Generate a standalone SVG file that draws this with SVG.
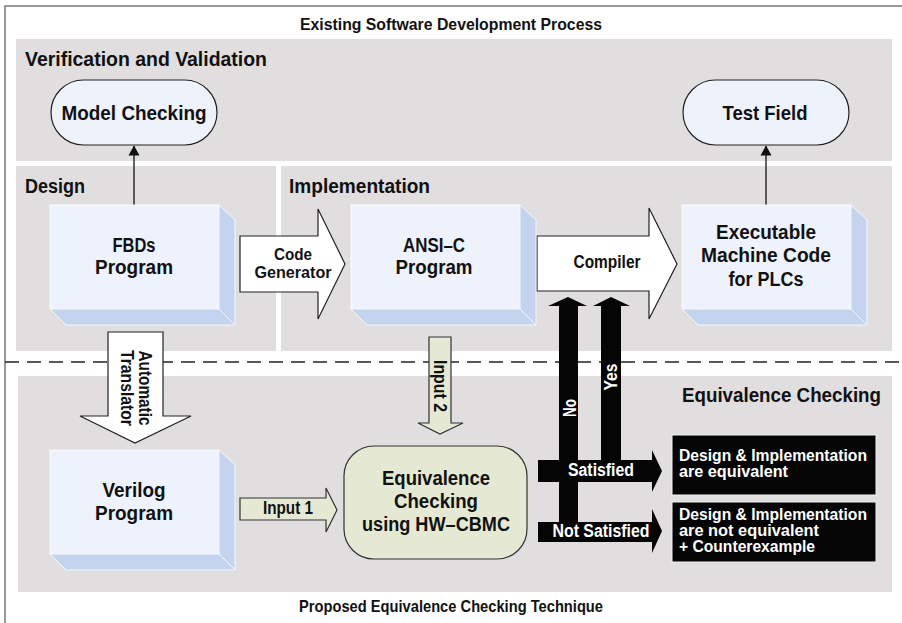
<svg xmlns="http://www.w3.org/2000/svg" xmlns:xlink="http://www.w3.org/1999/xlink" width="902" height="623" viewBox="0 0 902 623">
<style>
.panel{fill:#e0dedf}
.t{font-family:"Liberation Sans",Arial,sans-serif;font-weight:bold;fill:#111}
.c{text-anchor:middle}
.wt{fill:#fff}
.face{fill:#eef2fc;stroke:#fafbff;stroke-width:1}
.bevel{fill:#c4d3ee;stroke:#f4f7fd;stroke-width:1}
.pill{fill:#eef2fb;stroke:#222;stroke-width:1.2}
.blockw{fill:#fff;stroke:#222;stroke-width:1.2}
.green{fill:#e5e9d3;stroke:#333;stroke-width:1.2}
.blk{fill:#050505}
.line{fill:none;stroke:#111;stroke-width:1.3}
.res{fill:#050505;stroke:#f2f2f2;stroke-width:1}
</style>
<defs>
<marker id="ah" viewBox="0 0 10 14" refX="9.5" refY="7" markerWidth="10" markerHeight="14" markerUnits="userSpaceOnUse" orient="auto">
<path d="M0,1.5 L10,7 L0,12.5 Z" fill="#111"/>
</marker>
<g id="box3d">
<rect class="face" x="0" y="0" width="169" height="104"/>
<polygon class="bevel" points="169,0 185,15 185,120 169,104"/>
<polygon class="bevel" points="0,104 169,104 185,120 16,120"/>
</g>
</defs>

<rect x="0" y="0" width="902" height="623" fill="#fff"/>
<path d="M5,623 V6 H902" fill="none" stroke="#777" stroke-width="1.5"/>

<g id="panels">
<rect class="panel" x="16" y="39" width="876" height="122"/>
<rect class="panel" x="16" y="166" width="260" height="185"/>
<rect class="panel" x="281" y="166" width="611" height="185"/>
<rect class="panel" x="18" y="376" width="874" height="216"/>
<line x1="5" y1="362" x2="902" y2="362" stroke="#222" stroke-width="1.5" stroke-dasharray="14 8"/>
</g>

<g id="labels">
<text class="t c" x="451" y="30" font-size="17" textLength="302" lengthAdjust="spacingAndGlyphs">Existing Software Development Process</text>
<text class="t" x="25" y="66" font-size="20" textLength="242" lengthAdjust="spacingAndGlyphs">Verification and Validation</text>
<text class="t" x="25" y="193" font-size="20" textLength="60" lengthAdjust="spacingAndGlyphs">Design</text>
<text class="t" x="289" y="193" font-size="20" textLength="141" lengthAdjust="spacingAndGlyphs">Implementation</text>
<text class="t" x="881" y="402" font-size="20" text-anchor="end" textLength="199" lengthAdjust="spacingAndGlyphs">Equivalence Checking</text>
<text class="t c" x="451" y="612" font-size="17" textLength="304" lengthAdjust="spacingAndGlyphs">Proposed Equivalence Checking Technique</text>
</g>

<g id="connectors">
<line class="line" x1="134" y1="205" x2="134" y2="146" marker-end="url(#ah)"/>
<line class="line" x1="766" y1="205" x2="766" y2="146" marker-end="url(#ah)"/>

<g id="code-generator">
<path class="blockw" d="M240,236 H318 V209 L345,264 L318,319 V292 H240 Z"/>
<text class="t c" x="293" y="260" font-size="17" textLength="38" lengthAdjust="spacingAndGlyphs">Code</text>
<text class="t c" x="293" y="278" font-size="17" textLength="77" lengthAdjust="spacingAndGlyphs">Generator</text>
</g>
<g id="compiler">
<path class="blockw" d="M537,236 H649 V208 L677,264 L649,319 V291 H537 Z"/>
<text class="t c" x="607" y="268" font-size="18" textLength="67" lengthAdjust="spacingAndGlyphs">Compiler</text>
</g>
<g id="automatic-translator">
<path class="blockw" d="M108,332 V416 H80 L135,443 L191,416 H163 V332 Z"/>
<text class="t c" transform="translate(139,388) rotate(90)" font-size="19" textLength="75" lengthAdjust="spacingAndGlyphs">Automatic</text>
<text class="t c" transform="translate(121,388) rotate(90)" font-size="19" textLength="76" lengthAdjust="spacingAndGlyphs">Translator</text>
</g>
<g id="input2">
<path class="green" d="M429,337 V423 H418 L440,434 L463,423 H451 V337 Z"/>
<text class="t c" transform="translate(434,386) rotate(90)" font-size="18" textLength="52" lengthAdjust="spacingAndGlyphs">Input 2</text>
</g>
<g id="input1">
<path class="green" d="M240,498 H326 V488 L337,510 L326,532 V520 H240 Z"/>
<text class="t c" x="288" y="514" font-size="18" textLength="50" lengthAdjust="spacingAndGlyphs">Input 1</text>
</g>
<g id="result-arrows">
<path id="satisfied-yes" class="blk" d="M538,460 H601 V306 H593 L611,297 L630,306 H621 V460 H652 V450 L662,471 L652,492 V482 H538 Z"/>
<path id="notsatisfied-no" class="blk" d="M538,522 H559 V306 H548 L568,297 L587,306 H578 V522 H652 V509 L662,531 L652,553 V542 H538 Z"/>
<text class="t c wt" x="601" y="476" font-size="18" textLength="66" lengthAdjust="spacingAndGlyphs">Satisfied</text>
<text class="t c wt" transform="translate(617,377) rotate(-90)" font-size="18" textLength="27" lengthAdjust="spacingAndGlyphs">Yes</text>
<text class="t c wt" x="601" y="537" font-size="18" textLength="97" lengthAdjust="spacingAndGlyphs">Not Satisfied</text>
<text class="t c wt" transform="translate(576,408) rotate(-90)" font-size="18" textLength="18" lengthAdjust="spacingAndGlyphs">No</text>
</g>
</g>

<g id="model-checking">
<rect class="pill" x="51" y="80" width="166" height="65" rx="32.5" ry="32.5"/>
<text class="t c" x="134" y="120" font-size="21" textLength="145" lengthAdjust="spacingAndGlyphs">Model Checking</text>
</g>
<g id="test-field">
<rect class="pill" x="683" y="80" width="166" height="65" rx="32.5" ry="32.5"/>
<text class="t c" x="765" y="120" font-size="21" textLength="85" lengthAdjust="spacingAndGlyphs">Test Field</text>
</g>

<g id="fbds-program">
<use xlink:href="#box3d" href="#box3d" x="50" y="205"/>
<text class="t c" x="134" y="252" font-size="20" textLength="43" lengthAdjust="spacingAndGlyphs">FBDs</text>
<text class="t c" x="134" y="274" font-size="20" textLength="78" lengthAdjust="spacingAndGlyphs">Program</text>
</g>
<g id="ansi-c-program">
<use xlink:href="#box3d" href="#box3d" x="351" y="205"/>
<text class="t c" x="434" y="252" font-size="20" textLength="62" lengthAdjust="spacingAndGlyphs">ANSI–C</text>
<text class="t c" x="434" y="274" font-size="20" textLength="77" lengthAdjust="spacingAndGlyphs">Program</text>
</g>
<g id="executable">
<use xlink:href="#box3d" href="#box3d" x="682" y="205"/>
<text class="t c" x="766" y="239" font-size="20" textLength="100" lengthAdjust="spacingAndGlyphs">Executable</text>
<text class="t c" x="766" y="262" font-size="20" textLength="130" lengthAdjust="spacingAndGlyphs">Machine Code</text>
<text class="t c" x="766" y="286" font-size="20" textLength="75" lengthAdjust="spacingAndGlyphs">for PLCs</text>
</g>
<g id="verilog-program">
<use xlink:href="#box3d" href="#box3d" x="50" y="450"/>
<text class="t c" x="134" y="497" font-size="20" textLength="63" lengthAdjust="spacingAndGlyphs">Verilog</text>
<text class="t c" x="134" y="520" font-size="20" textLength="78" lengthAdjust="spacingAndGlyphs">Program</text>
</g>

<g id="equivalence-checking">
<rect class="green" x="344" y="446" width="183" height="113" rx="30" ry="30" fill="#e8ead8"/>
<text class="t c" x="436" y="485" font-size="20" textLength="108" lengthAdjust="spacingAndGlyphs">Equivalence</text>
<text class="t c" x="436" y="508" font-size="20" textLength="84" lengthAdjust="spacingAndGlyphs">Checking</text>
<text class="t c" x="436" y="531" font-size="20" textLength="148" lengthAdjust="spacingAndGlyphs">using HW–CBMC</text>
</g>

<g id="result-equivalent">
<rect class="res" x="672" y="435" width="204" height="60"/>
<text class="t wt" x="679" y="461" font-size="16" textLength="188" lengthAdjust="spacingAndGlyphs">Design &amp; Implementation</text>
<text class="t wt" x="679" y="477" font-size="16" textLength="109" lengthAdjust="spacingAndGlyphs">are equivalent</text>
</g>
<g id="result-not-equivalent">
<rect class="res" x="672" y="502" width="204" height="60"/>
<text class="t wt" x="679" y="520" font-size="16" textLength="188" lengthAdjust="spacingAndGlyphs">Design &amp; Implementation</text>
<text class="t wt" x="679" y="536" font-size="16" textLength="140" lengthAdjust="spacingAndGlyphs">are not equivalent</text>
<text class="t wt" x="679" y="552" font-size="16" textLength="136" lengthAdjust="spacingAndGlyphs">+ Counterexample</text>
</g>
</svg>
